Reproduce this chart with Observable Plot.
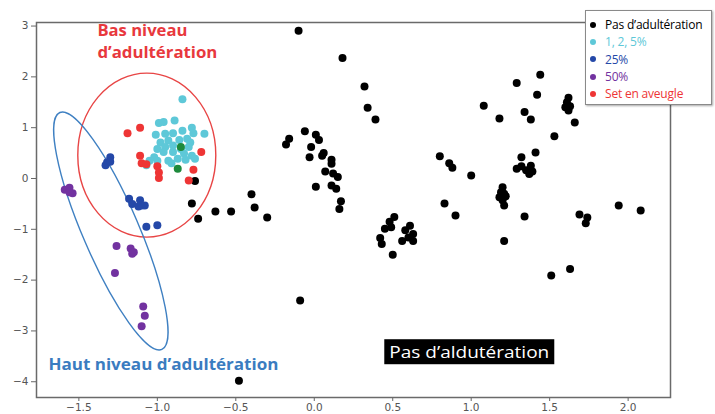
<!DOCTYPE html>
<html>
<head>
<meta charset="utf-8">
<script src="https://cdn.jsdelivr.net/npm/d3@7"></script>
<script src="https://cdn.jsdelivr.net/npm/@observablehq/plot@0.6"></script>
<style>
  html, body { margin: 0; padding: 0; background: #fff; }
  #wrap { position: relative; width: 715px; height: 414px; overflow: hidden; font-family: "Open Sans", Lato, sans-serif; }
  #legend { position: absolute; left: 585px; top: 10px; width: 127px; height: 95px; background: #fff;
            border: 1px solid #8a8a8a; box-shadow: 1px 1px 2px rgba(0,0,0,0.35); box-sizing: border-box; padding-top: 5px; }
  .lrow { height: 17.3px; line-height: 17.3px; font-size: 12px; white-space: nowrap; display: flex; align-items: center; letter-spacing: -0.2px; }
  .ldot { display: inline-block; width: 6px; height: 6px; border-radius: 50%; margin-left: 4px; margin-right: 9px; }
  .annot text { font-weight: 700; }
</style>
</head>
<body>
<div id="wrap"></div>
<script>
// ---- data ----
const seriesNames = ["Pas d\u2019adultération", "1, 2, 5%", "25%", "50%", "Set en aveugle"];
const seriesColors = ["#000000", "#5ec8d8", "#2448a8", "#7232a0", "#ee3535"];
const otherColor = "#1e8a3c";

const pasAdulteration = [
  [-0.10,2.91],[0.18,2.37],[0.32,1.81],[0.34,1.39],[0.39,1.16],
  [-0.06,0.93],[-0.16,0.78],[-0.18,0.67],[0.01,0.86],[0.03,0.76],[-0.02,0.62],[-0.03,0.42],[0.05,0.45],[0.06,0.50],
  [0.11,0.37],[0.11,0.29],[0.07,0.14],[0.12,0.10],[0.15,0.03],[0.01,-0.16],[0.11,-0.14],[0.14,-0.20],[0.17,-0.45],[0.16,-0.60],
  [-0.40,-0.31],[-0.38,-0.57],[-0.30,-0.77],[-0.53,-0.65],
  [0.51,-0.76],[0.48,-0.85],[0.45,-0.99],[0.49,-0.96],[0.61,-0.93],[0.58,-1.02],[0.63,-1.09],[0.42,-1.17],[0.43,-1.29],
  [0.56,-1.23],[0.63,-1.23],[0.60,-1.16],[0.50,-1.50],
  [-0.09,-2.40],
  [1.44,2.04],[1.29,1.88],[1.42,1.65],[1.08,1.43],[1.18,1.18],[1.34,1.31],[1.38,1.16],[1.62,1.59],[1.61,1.50],[1.63,1.42],
  [1.62,1.34],[1.60,1.40],[1.66,1.10],[1.53,0.83],
  [0.80,0.44],[0.86,0.30],[0.88,0.21],[1.00,0.06],[1.32,0.42],[1.41,0.51],[1.29,0.19],[1.32,0.24],[1.35,0.16],[1.38,0.25],
  [1.39,0.14],[1.37,0.09],
  [1.20,-0.17],[1.19,-0.27],[1.22,-0.35],[1.18,-0.37],[1.20,-0.43],[1.21,-0.53],[1.21,-0.30],
  [0.83,-0.49],[0.90,-0.73],[1.34,-0.75],[1.69,-0.71],[1.74,-0.77],[1.73,-0.88],[1.21,-1.23],[1.63,-1.78],[1.51,-1.91],
  [1.94,-0.53],[2.08,-0.63],
  [-0.76,-0.05],[-0.78,-0.49],[-0.63,-0.65],[-0.74,-0.79],[-0.48,-3.98]
];
const bas125 = [
  [-0.84,1.56],[-0.99,1.09],[-0.96,1.11],[-0.89,1.14],[-1.01,0.86],[-0.95,0.88],[-0.90,0.89],[-0.84,0.94],[-0.78,1.00],
  [-0.77,0.89],[-0.70,0.88],[-0.98,0.71],[-0.93,0.75],[-0.86,0.76],[-0.81,0.78],[-0.79,0.71],[-1.00,0.58],[-0.95,0.62],
  [-0.90,0.65],[-0.85,0.58],[-0.80,0.62],[-0.96,0.52],[-0.90,0.52],[-0.83,0.49],[-0.78,0.45],[-1.02,0.42],[-1.05,0.35],
  [-1.00,0.35],[-0.93,0.35],[-0.87,0.39],[-0.82,0.37],[-0.76,0.39],[-0.91,0.30],[-1.07,0.26]
];
const pct25 = [
  [-1.30,0.42],[-1.32,0.32],[-1.33,0.26],[-1.30,0.33],
  [-1.18,-0.40],[-1.16,-0.50],[-1.11,-0.43],[-1.10,-0.53],[-1.08,-0.53],[-1.12,-0.55],
  [-1.07,-0.95],[-1.00,-0.92]
];
const pct50 = [
  [-1.59,-0.22],[-1.56,-0.18],[-1.54,-0.29],[-1.56,-0.27],
  [-1.26,-1.33],[-1.17,-1.38],[-1.16,-1.48],[-1.15,-1.45],[-1.27,-1.86],
  [-1.09,-2.52],[-1.08,-2.70],[-1.10,-2.91]
];
const aveugle = [
  [-1.19,0.89],[-1.11,1.00],[-0.72,0.52],[-1.11,0.45],[-1.10,0.30],[-1.07,0.28],[-1.00,0.24],[-0.99,0.12],[-0.99,0.01],
  [-0.77,0.17],[-0.80,-0.04]
];
const autres = [[-0.85,0.62],[-0.87,0.19]];

const xTicks = [-1.5, -1.0, -0.5, 0.0, 0.5, 1.0, 1.5, 2.0];
const yTicks = [-4, -3, -2, -1, 0, 1, 2, 3];

// ---- annotation settings ----
const ellipses = [
  {cx: -1.064, cy: 0.45, rx: 69, ry: 82, rot: 0, stroke: "#e84545"},
  {cx: -1.293, cy: -1.043, rx: 129, ry: 28, rot: 66.7, stroke: "#3f80c2"}
];
const labels = [
  {x: -1.382, y: 2.91, text: "Bas niveau", fill: "#e8383d", len: 90},
  {x: -1.382, y: 2.46, text: "d\u2019adultération", fill: "#e8383d", len: 120},
  {x: -1.694, y: -3.68, text: "Haut niveau d\u2019adultération", fill: "#3a7cc0", len: 230}
];
const boxLabel = {x: 0.478, y: -3.43, text: "Pas d\u2019aldutération", len: 160};

// ---- build table ----
const groups = [pasAdulteration, bas125, pct25, pct50, aveugle];
const rows = [];
groups.forEach((g, i) => g.forEach(([x, y]) => rows.push({x, y, s: seriesNames[i], c: seriesColors[i]})));
autres.forEach(([x, y]) => rows.push({x, y, s: "autre", c: otherColor}));

const fmt = d => d.toFixed(1).replace("-", "\u2212");

const ellipseMark = (index, scales) => {
  const g = d3.create("svg:g");
  for (const e of ellipses) {
    g.append("ellipse")
      .attr("rx", e.rx).attr("ry", e.ry)
      .attr("transform", `translate(${scales.x(e.cx)},${scales.y(e.cy)}) rotate(${e.rot})`)
      .attr("fill", "none").attr("stroke", e.stroke).attr("stroke-width", 1.4);
  }
  return g.node();
};

const chart = Plot.plot({
  width: 715,
  height: 414,
  marginLeft: 36,
  marginRight: 45,
  marginTop: 22,
  marginBottom: 17,
  style: {background: "#fff", fontFamily: "DejaVu Sans, sans-serif"},
  x: {domain: [-1.77, 2.27]},
  y: {domain: [-4.31, 3.07]},
  marks: [
    Plot.axisX({ticks: xTicks, tickFormat: fmt, tickSize: 4, tickPadding: 2, fontSize: 10.5, color: "#555", stroke: "#666", label: null}),
    Plot.axisY({ticks: yTicks, tickFormat: d => String(d).replace("-", "\u2212"), tickSize: 5, tickPadding: 3, fontSize: 10.5, color: "#555", stroke: "#666", label: null}),
    Plot.frame({stroke: "#6a6a6a", strokeWidth: 1.5}),
    ellipseMark,
    Plot.dot(rows, {x: "x", y: "y", r: 4, fill: "c", stroke: "none"}),
    Plot.text(labels, {x: "x", y: "y", text: "text", fill: "fill", fontSize: 15.5, fontWeight: "bold", textAnchor: "start", fontFamily: "'Open Sans', sans-serif", className: "annot"}),
    Plot.text([boxLabel], {x: "x", y: "y", text: "text", fill: "#fff", fontSize: 17, textAnchor: "start", fontFamily: "'Open Sans', sans-serif", className: "boxlabel"})
  ]
});
document.getElementById("wrap").appendChild(chart);

const svg = d3.select(chart);
// stretch annotation texts to the widths seen in the picture
svg.selectAll(".annot text").each(function(_, i) {
  d3.select(this).attr("textLength", labels[i].len).attr("lengthAdjust", "spacingAndGlyphs").attr("font-weight", "bold");
});
// black background behind the box label
svg.selectAll(".boxlabel text").each(function() {
  d3.select(this).attr("textLength", boxLabel.len).attr("lengthAdjust", "spacingAndGlyphs");
  const b = this.getBBox();
  const t = this.getAttribute("transform");
  const r = d3.select(this.parentNode).insert("rect", () => this)
    .attr("x", b.x - 5).attr("y", b.y - 1).attr("width", b.width + 10).attr("height", b.height + 2)
    .attr("fill", "#000");
  if (t) r.attr("transform", t);
});

// legend
const legend = d3.select("#wrap").append("div").attr("id", "legend");
seriesNames.forEach((n, i) => {
  const row = legend.append("div").attr("class", "lrow").style("color", seriesColors[i]);
  row.append("span").attr("class", "ldot").style("background", seriesColors[i]);
  row.append("span").text(n);
});
</script>
</body>
</html>
